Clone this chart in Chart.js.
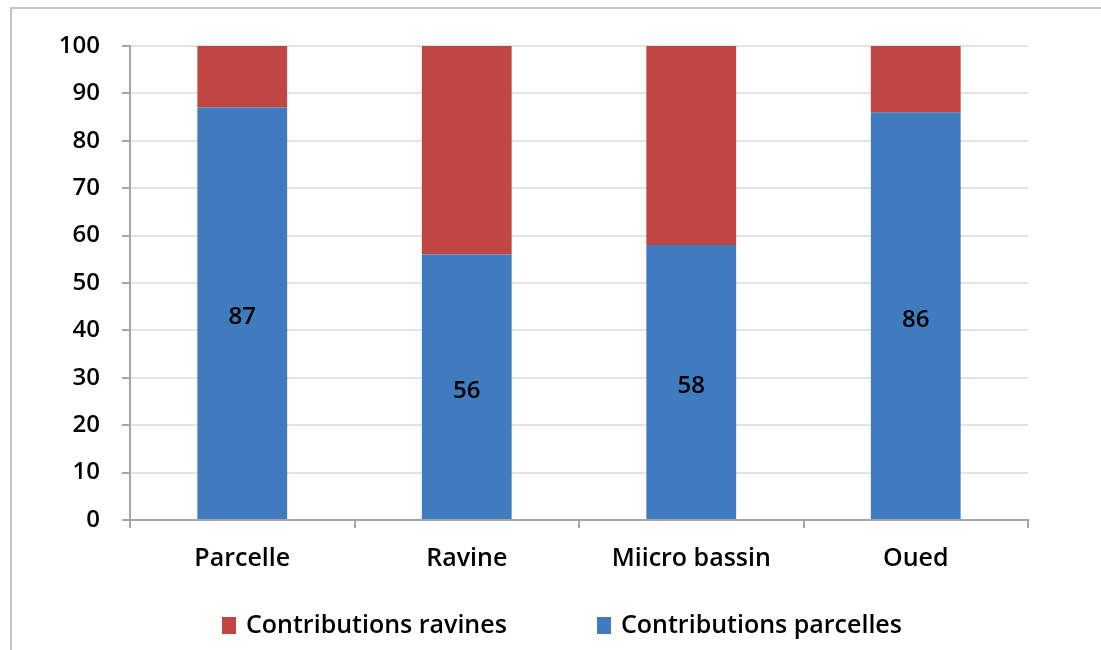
<!DOCTYPE html>
<html>
<head>
<meta charset="utf-8">
<script src="https://cdn.jsdelivr.net/npm/chart.js@4.4.1/dist/chart.umd.min.js"></script>
<style>
  html, body { margin: 0; padding: 0; background: #ffffff; }
  #wrap { position: relative; width: 1101px; height: 650px; }
</style>
</head>
<body>
<div id="wrap"><canvas id="c" width="1101" height="650"></canvas></div>
<script>
const categories = ["Parcelle", "Ravine", "Miicro bassin", "Oued"];
const parcelles = [87, 56, 58, 86];
const ravines = [13, 44, 42, 14];
const yTicks = [0, 10, 20, 30, 40, 50, 60, 70, 80, 90, 100];
const seriesNames = ["Contributions parcelles", "Contributions ravines"];

const FONT = "'Open Sans', 'DejaVu Sans', sans-serif";
const BLUE = "#3f7bbe";
const RED = "#c04644";

const framePlugin = {
  id: "frame",
  beforeDraw(chart) {
    const ctx = chart.ctx;
    ctx.save();
    ctx.strokeStyle = "#c4c4c4";
    ctx.lineWidth = 2;
    ctx.beginPath();
    ctx.moveTo(11, chart.height);
    ctx.lineTo(11, 8);
    ctx.lineTo(chart.width, 8);
    ctx.stroke();
    ctx.restore();
  }
};

const valueLabels = {
  id: "valueLabels",
  afterDatasetsDraw(chart) {
    const ctx = chart.ctx;
    const meta = chart.getDatasetMeta(0);
    ctx.save();
    ctx.font = "600 24px " + FONT;
    ctx.fillStyle = "#000";
    ctx.textAlign = "center";
    ctx.textBaseline = "middle";
    meta.data.forEach((bar, i) => {
      const p = bar.getProps(["x", "y", "base"], true);
      ctx.fillText(String(chart.data.datasets[0].data[i]), p.x, (p.y + p.base) / 2 + 4);
    });
    ctx.restore();
  }
};

const customLegend = {
  id: "customLegend",
  afterDraw(chart) {
    const ctx = chart.ctx;
    const items = [
      { text: chart.data.datasets[1].label, color: chart.data.datasets[1].backgroundColor, x: 222 },
      { text: chart.data.datasets[0].label, color: chart.data.datasets[0].backgroundColor, x: 597 }
    ];
    ctx.save();
    ctx.font = "600 25px " + FONT;
    ctx.textBaseline = "middle";
    ctx.textAlign = "left";
    items.forEach(it => {
      ctx.fillStyle = it.color;
      ctx.fillRect(it.x, 617, 14, 17);
      ctx.fillStyle = "#000";
      ctx.fillText(it.text, it.x + 24, 626);
    });
    ctx.restore();
  }
};

new Chart(document.getElementById("c"), {
  type: "bar",
  data: {
    labels: categories,
    datasets: [
      { label: seriesNames[0], data: parcelles, backgroundColor: BLUE, barPercentage: 0.4, categoryPercentage: 1.0 },
      { label: seriesNames[1], data: ravines, backgroundColor: RED, barPercentage: 0.4, categoryPercentage: 1.0 }
    ]
  },
  options: {
    responsive: false,
    animation: false,
    devicePixelRatio: 1,
    layout: { padding: { top: 46, right: 73, bottom: 50, left: 0 } },
    plugins: {
      legend: { display: false },
      tooltip: { enabled: false }
    },
    scales: {
      x: {
        stacked: true,
        grid: { display: true, drawOnChartArea: false, drawTicks: true, tickLength: 8, color: "#a6a6a6", lineWidth: 2, offset: true },
        border: { display: true, color: "#a6a6a6", width: 2 },
        ticks: { color: "#000", font: { family: FONT, size: 25, weight: "600" }, padding: 16 },
        afterFit(s) { s.height = 80; }
      },
      y: {
        stacked: true,
        min: 0, max: 100,
        afterBuildTicks(s) { s.ticks = yTicks.map(v => ({ value: v })); },
        grid: { color: "#e3e3e3", lineWidth: 2, tickLength: 8, tickColor: "#a6a6a6" },
        border: { display: true, color: "#a6a6a6", width: 2 },
        ticks: { color: "#000", font: { family: FONT, size: 24, weight: "600" }, padding: 22 },
        afterFit(s) { s.width = 130; }
      }
    }
  },
  plugins: [framePlugin, valueLabels, customLegend]
});
</script>
</body>
</html>
